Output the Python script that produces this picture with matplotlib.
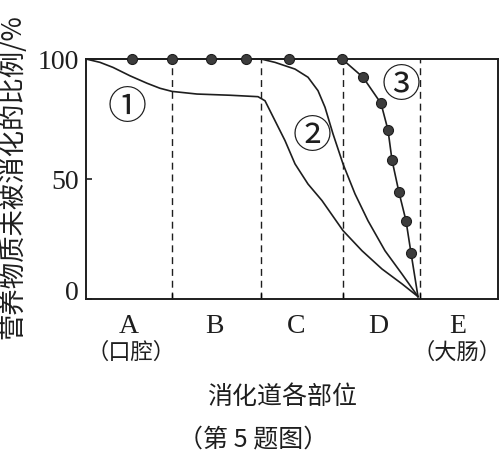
import matplotlib
matplotlib.use("Agg")
import matplotlib.pyplot as plt
from matplotlib.transforms import ScaledTranslation, blended_transform_factory

# ---- data ----
boundaries = [86, 175, 257, 334]          # section borders (dashed lines)
x_max = 412
sections = ["A", "B", "C", "D", "E"]
section_pos = [43, 128, 210, 292, 372]
note_A = "（口腔）"
note_E = "（大肠）"
yticks = [0, 50, 100]

# curve ①
x1 = [0, 14, 27, 44, 61, 74, 86, 111, 144, 172, 179, 189, 199, 209, 222, 236, 257, 276, 296, 316, 332]
y1 = [100, 98.6, 96.5, 93, 89.9, 87.8, 86.5, 85.4, 84.9, 84.3, 82.6, 74.3, 66, 56.3, 47.9, 41, 28.5, 20.1, 12.5, 6.3, 1]
# curve ②
x2 = [175, 189, 209, 222, 232, 239, 247, 257, 269, 282, 299, 316, 332]
y2 = [100, 98.6, 95.8, 92.4, 86.8, 79.9, 68.8, 56.3, 43.8, 32.6, 20.1, 10.4, 1]
# curve ③ (dotted points)
x3 = [0, 46, 86, 125, 160, 203, 256, 277, 295, 302, 306, 313, 320, 325, 332]
y3 = [100, 100, 100, 100, 100, 100, 100, 92.4, 81.5, 70.4, 57.9, 44.4, 32.6, 19.2, 1]

labels = ["①", "②", "③"]
label_x = [41, 226, 315]
label_y = [80, 68, 89]

# ---- figure ----
serif = ["Liberation Serif", "DejaVu Serif"]
cjk = ["Noto Sans CJK SC", "DejaVu Sans"]
ink = "#1e1e1e"

fig = plt.figure(figsize=(5.04, 4.60), dpi=100)
ax = fig.add_axes([86 / 504, 1 - 300 / 460, 412 / 504, 240 / 460])
ax.set_xlim(0, x_max)
ax.set_ylim(0, 100)

for b in boundaries:
    ax.axvline(b, color=ink, lw=1.0, ls=(0, (5, 3.5)), zorder=1)

ax.plot(x1, y1, color=ink, lw=1.2, clip_on=False, zorder=3)
ax.plot(x2, y2, color=ink, lw=1.2, clip_on=False, zorder=3)
ax.plot(x3, y3, color=ink, lw=1.2, clip_on=False, zorder=3)
ax.plot(x3[1:-1], y3[1:-1], ls="none", marker="o", ms=7.2,
        mfc="#3c3c3c", mec=ink, mew=0.8, clip_on=False, zorder=4)

for t, x, y in zip(labels, label_x, label_y):
    ax.text(x, y, t, family=cjk, fontsize=28, ha="center", va="center", color=ink)

for s in ax.spines.values():
    s.set_linewidth(1.4)
    s.set_color(ink)

# y ticks
ax.set_yticks(yticks, [str(v) for v in yticks])
ax.tick_params(axis="y", direction="in", length=4, width=1.2, pad=5,
               labelsize=20, colors=ink)
for lab in ax.get_yticklabels():
    lab.set_family(serif)
ylabs = ax.get_yticklabels()
ylabs[0].set_transform(ylabs[0].get_transform() +
                       ScaledTranslation(0, 0.10, fig.dpi_scale_trans))

# x ticks: marks at borders, letters at section centres
ax.set_xticks(boundaries, [""] * len(boundaries))
ax.tick_params(axis="x", which="major", direction="in", length=4, width=1.0)
ax.set_xticks(section_pos, sections, minor=True)
ax.tick_params(axis="x", which="minor", length=0, pad=10, labelsize=20, colors=ink)
for lab in ax.get_xticklabels(minor=True):
    lab.set_family(serif)

tr = blended_transform_factory(ax.transData, fig.transFigure)
ax.text(section_pos[0] + 2, 1 - 352 / 460, note_A, transform=tr, family=cjk,
        fontsize=16, ha="center", va="center", color=ink)
ax.text(section_pos[4] - 1, 1 - 352 / 460, note_E, transform=tr, family=cjk,
        fontsize=16, ha="center", va="center", color=ink)

fig.text(282 / 504, 1 - 397 / 460, "消化道各部位", family=cjk, fontsize=18,
         ha="center", va="center", color=ink)
fig.text(253 / 504, 1 - 440 / 460, "（第 5 题图）", family=cjk, fontsize=18,
         ha="center", va="center", color=ink)
fig.text(13 / 504, 1 - 177 / 460, "营养物质未被消化的比例/%", family=cjk,
         fontsize=19, rotation=90, ha="center", va="center", color=ink)

fig.savefig("out.png", dpi=100)
